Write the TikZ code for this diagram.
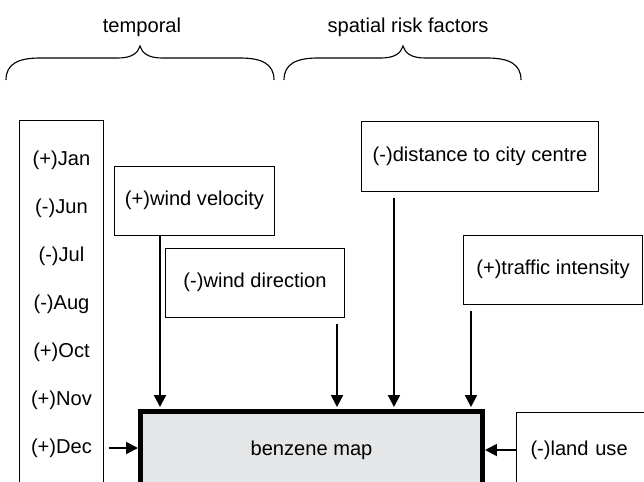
\documentclass[tikz,border=0pt]{standalone}
\usepackage{fontspec}
\setmainfont{Liberation Sans}
\usepackage{xcolor}
\usetikzlibrary{arrows.meta,positioning}
\definecolor{mapgray}{RGB}{228,230,231}

\begin{document}
\begin{tikzpicture}[
  x=0.025cm, y=-0.025cm,
  every node/.style={font=\fontsize{14.3}{17}\selectfont, align=center},
  box/.style={rectangle, draw, line width=0.7pt, inner sep=0pt},
  mapbox/.style={rectangle, draw, line width=3.5pt, fill=mapgray},
  arrow/.style={-{Triangle[length=8.5pt,width=8.5pt]}, line width=1.4pt},
  brace/.style={line width=0.8pt}
]
\useasboundingbox (0,0) rectangle (644,481);
\clip (0,0) rectangle (644,481);

% HEADINGS AND BRACES
\node (temporal) at (142,27) {temporal};
\node (spatial) at (408,27) {spatial risk factors};

\draw[brace] (6,80) .. controls (6,64) and (18,58) .. (40,58) -- (118,58)
  .. controls (132,58) and (138,53) .. (140,46)
  .. controls (142,53) and (148,58) .. (162,58) -- (240,58)
  .. controls (262,58) and (274,64) .. (274,80);
\draw[brace] (284,80) .. controls (284,64) and (296,58) .. (318,58) -- (381,58)
  .. controls (395,58) and (401,53) .. (403,46)
  .. controls (405,53) and (411,58) .. (425,58) -- (487,58)
  .. controls (509,58) and (521,64) .. (521,80);

% TEMPORAL
\node[box, minimum width=2.075cm, minimum height=9.35cm] (months) at (61.5,308) {};
\foreach \m [count=\i] in {(+)Jan,(-)Jun,(-)Jul,(-)Aug,(+)Oct,(+)Nov,(+)Dec}
  \node (m\i) at (61.5,{112+48*\i}) {\m};

\node[box, minimum width=3.975cm, minimum height=1.725cm] (wv) at (194.5,200.5) {(+)wind velocity};
\node[box, minimum width=4.45cm, minimum height=1.725cm] (wd) at (255,282.5) {(-)wind direction};

% SPATIAL RISK FACTORS
\node[box, minimum width=5.9cm, minimum height=1.75cm] (dist) at (480,156) {(-)distance to city centre};
\node[box, minimum width=4.45cm, minimum height=1.725cm] (traffic) at (553,269.5) {(+)traffic intensity};
\node[box, anchor=west, align=left, text width=2.75cm, inner xsep=0.35cm,
  minimum height=1.9cm] (land) at (516,450) {(-)land use};

% OUTCOME
\node[mapbox, minimum width=8.55cm, minimum height=1.925cm] (benz) at (311.5,450) {benzene map};

% ARROWS
\coordinate (wvx) at ([xshift=-0.8625cm]wv.south);
\coordinate (wdx) at ([xshift=2.05cm]wd.south);
\coordinate (distx) at ([xshift=-2.15cm]dist.south);
\coordinate (trafx) at ([xshift=-2.05cm]traffic.south);

\draw[arrow, shorten >=0.05cm] (wvx) -- (wvx |- benz.north);
\draw[arrow, shorten <=0.15cm, shorten >=0.05cm] (wdx) -- (wdx |- benz.north);
\draw[arrow, shorten <=0.15cm, shorten >=0.05cm] (distx) -- (distx |- benz.north);
\draw[arrow, shorten <=0.15cm, shorten >=0.05cm] (trafx) -- (trafx |- benz.north);
\draw[arrow, shorten <=0.125cm] (months.east |- m7) -- (benz.west |- m7);
\draw[arrow] (land.west) -- (benz.east);

\end{tikzpicture}
\end{document}
